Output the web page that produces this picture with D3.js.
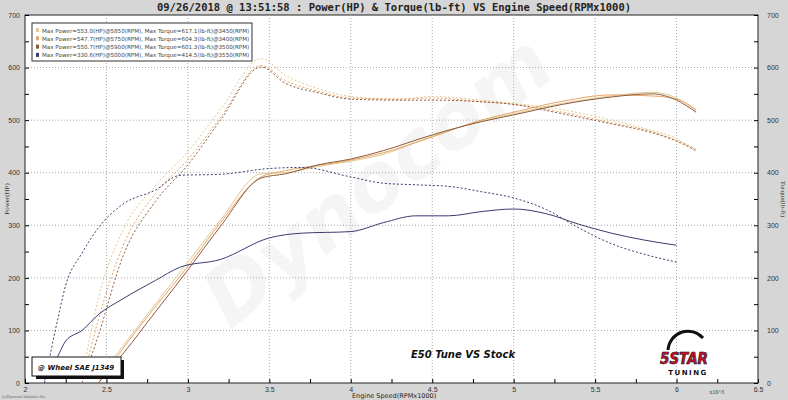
<!DOCTYPE html><html><head><meta charset="utf-8"><script src="https://cdn.jsdelivr.net/npm/d3@7"></script>
<style>body{margin:0;background:#d6d6d6}</style></head><body><svg id="c" width="788" height="400"></svg>
<script>
const xTicks=[2,2.5,3,3.5,4,4.5,5,5.5,6,6.5];
const yTicks=[0,100,200,300,400,500,600,700];
const legendLabels=["Max Power=553.0(HP)@5850(RPM), Max Torque=617.1(lb-ft)@3450(RPM)","Max Power=547.7(HP)@5750(RPM), Max Torque=604.3(lb-ft)@3400(RPM)","Max Power=550.7(HP)@5900(RPM), Max Torque=601.3(lb-ft)@3500(RPM)","Max Power=330.6(HP)@5000(RPM), Max Torque=414.5(lb-ft)@3550(RPM)"];
const colors=["#e2c98e","#e6a466","#8c5a3e","#3c3c70"];
const rpmT=[2.45,2.6,2.8,3.0,3.2,3.45,3.6,3.8,4.0,4.2,4.5,4.8,5.0,5.3,5.6,5.85,6.0,6.12];
const p1=[10,70,150,230,310,398,400,412,422,435,470,498,512,532,546,553,542,518];
const p2=[0,65,145,222,305,392,404,414,424,438,468,500,515,536,548,546,540,520];
const p3=[0,55,135,215,298,390,398,415,426,442,472,497,510,530,544,550,538,515];
const rpmTT=[2.35,2.45,2.6,2.8,3.0,3.2,3.45,3.6,3.8,4.0,4.3,4.5,4.8,5.0,5.3,5.6,5.85,6.0,6.12];
const t1=[10,160,290,375,440,520,617,585,560,545,540,545,538,532,520,500,480,465,440];
const t2=[0,120,260,360,425,505,604,575,555,542,540,542,535,530,515,495,478,462,445];
const t3=[0,90,240,345,415,500,601,570,552,540,538,538,535,530,512,493,476,460,442];
const rpmS=[2.12,2.2,2.25,2.35,2.45,2.6,2.8,2.95,3.2,3.5,3.7,4.0,4.2,4.4,4.6,4.8,5.0,5.2,5.4,5.6,5.8,6.0];
const ps=[5,50,80,100,130,160,195,220,235,276,285,288,305,318,318,326,331,322,302,285,272,262];
const ts=[0,120,186,247,295,340,367,395,397,408,410,392,380,377,374,364,352,330,295,265,245,230];
const svg=d3.select("#c");
const L=25,R=758,T=15,B=383;
const x=d3.scaleLinear().domain([2,6.5]).range([L,R]);
const y=d3.scaleLinear().domain([0,700]).range([B,T]);
svg.append("rect").attr("x",L).attr("y",T).attr("width",R-L).attr("height",B-T).attr("fill","#fff").attr("stroke","#222");
svg.append("text").attr("x",230).attr("y",330).attr("transform","rotate(-38,230,330)").attr("font-size",80).attr("font-weight","bold").attr("font-style","italic").attr("fill","#f5f5f5").attr("font-family","DejaVu Sans").text("Dynocom");
const g=svg.append("g");
xTicks.slice(1,-1).forEach(v=>g.append("line").attr("x1",x(v)).attr("x2",x(v)).attr("y1",T).attr("y2",B).attr("stroke","#aaa").attr("stroke-dasharray","1,2"));
yTicks.slice(1,-1).forEach(v=>g.append("line").attr("x1",L).attr("x2",R).attr("y1",y(v)).attr("y2",y(v)).attr("stroke","#aaa").attr("stroke-dasharray","1,2"));
const fx=d3.axisBottom(x).tickValues(d3.range(2,6.51,0.25)).tickSize(4).tickFormat(d=>xTicks.includes(d)?d:"");
svg.append("g").attr("transform",`translate(0,${B})`).call(fx).call(a=>{a.select(".domain").remove();a.selectAll("line").attr("transform","translate(0,-4)");a.selectAll("text").attr("font-size",7).attr("fill","#333").attr("dy","0.3em")});
const ya=d3.axisLeft(y).tickValues(d3.range(0,701,50)).tickSize(-4).tickFormat(d=>yTicks.includes(d)?d:"");
svg.append("g").attr("transform",`translate(${L},0)`).call(ya).call(a=>{a.select(".domain").remove();a.selectAll("text").attr("font-size",7).attr("fill","#333").attr("x",-5)});
const yb=d3.axisRight(y).tickValues(d3.range(0,701,50)).tickSize(-4).tickFormat(d=>yTicks.includes(d)?d:"");
svg.append("g").attr("transform",`translate(${R},0)`).call(yb).call(a=>{a.select(".domain").remove();a.selectAll("text").attr("font-size",7).attr("fill","#333").attr("x",9)});
const line=(xs)=>d3.line().x((d,i)=>x(xs[i])).y(d=>y(d)).curve(d3.curveMonotoneX);
const draw=(xs,ys,c,dash)=>svg.append("path").attr("d",line(xs)(ys)).attr("fill","none").attr("stroke",c).attr("stroke-width",1).attr("stroke-dasharray",dash?"2,2":null);
[[t1,0],[t2,1],[t3,2]].forEach(([d,i])=>draw(rpmTT,d,colors[i],true));
[[p1,0],[p2,1],[p3,2]].forEach(([d,i])=>draw(rpmT,d,colors[i],false));
draw(rpmS,ts,colors[3],true);draw(rpmS,ps,colors[3],false);
const lg=svg.append("g").attr("transform","translate(32,23)");
lg.append("rect").attr("width",220).attr("height",38).attr("fill","#fff").attr("stroke","#333");
legendLabels.forEach((t,i)=>{lg.append("rect").attr("x",4).attr("y",5+i*8.3).attr("width",3).attr("height",4).attr("fill",colors[i]);
lg.append("text").attr("x",10).attr("y",9.5+i*8.3).attr("font-size",5.6).attr("fill","#444").attr("font-family","DejaVu Sans").text(t)});
svg.append("text").attr("x",394).attr("y",11).attr("text-anchor","middle").attr("font-size",10.5).attr("font-weight","bold").attr("font-family","DejaVu Sans Mono").attr("fill","#222").text("09/26/2018 @ 13:51:58 : Power(HP) & Torque(lb-ft) VS Engine Speed(RPMx1000)");
svg.append("text").attr("x",352).attr("y",398).attr("font-size",6.5).attr("fill","#222").attr("font-family","DejaVu Sans").text("Engine Speed(RPMx1000)");
svg.append("text").attr("x",x(6.2)).attr("y",394).attr("font-size",6).attr("fill","#444").text("x10^3");
svg.append("text").attr("transform",`translate(9,${(T+B)/2}) rotate(-90)`).attr("text-anchor","middle").attr("font-size",7).attr("fill","#333").text("Power(HP)");
svg.append("text").attr("transform",`translate(781,${(T+B)/2}) rotate(90)`).attr("text-anchor","middle").attr("font-size",7).attr("fill","#333").text("Torque(lb-ft)");
svg.append("text").attr("x",2).attr("y",398).attr("font-size",4).attr("fill","#666").text("(c)Dynocom Industries Inc.");
svg.append("rect").attr("x",36).attr("y",360).attr("width",88).attr("height",19).attr("fill","#111");
svg.append("rect").attr("x",32).attr("y",357).attr("width",89).attr("height",19).attr("fill","#fff").attr("stroke","#111");
svg.append("text").attr("x",38).attr("y",369.5).attr("font-size",7).attr("font-style","italic").attr("font-weight","bold").attr("font-family","DejaVu Sans").attr("fill","#111").text("@ Wheel SAE J1349");
svg.append("text").attr("x",463).attr("y",358).attr("text-anchor","middle").attr("font-size",10).attr("font-style","italic").attr("font-weight","bold").attr("font-family","DejaVu Sans").attr("fill","#111").text("E50 Tune VS Stock");
svg.append("path").attr("d","M 668 350 A 20 20 0 0 1 703 338").attr("fill","none").attr("stroke","#111").attr("stroke-width",3);
svg.append("text").attr("x",684).attr("y",364).attr("text-anchor","middle").attr("font-size",15).attr("font-style","italic").attr("font-weight","bold").attr("font-family","Liberation Sans Narrow, DejaVu Sans Condensed").attr("fill","#c8102e").attr("stroke","#111").attr("stroke-width",0.6).text("5STAR");
svg.append("text").attr("x",688).attr("y",375).attr("text-anchor","middle").attr("font-size",7).attr("font-weight","bold").attr("letter-spacing",1.5).attr("font-family","DejaVu Sans").attr("fill","#111").text("TUNING");
</script></body></html>
